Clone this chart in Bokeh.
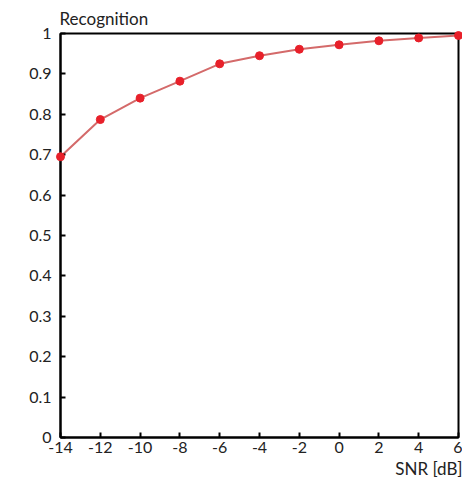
from bokeh.plotting import figure
from bokeh.models import Range1d, FixedTicker, Title
from bokeh.embed import file_html
from bokeh.resources import INLINE

snr_db = [-14, -12, -10, -8, -6, -4, -2, 0, 2, 4, 6]
recognition = [0.695, 0.787, 0.840, 0.882, 0.925, 0.945, 0.961, 0.972, 0.982, 0.989, 0.995]

x_ticks = [-14, -12, -10, -8, -6, -4, -2, 0, 2, 4, 6]
x_tick_labels = ["-14", "-12", "-10", "-8", "-6", "-4", "-2", "0", "2", "4", "6"]
y_ticks = [0, 0.1, 0.2, 0.3, 0.4, 0.5, 0.6, 0.7, 0.8, 0.9, 1]
y_tick_labels = ["0", "0.1", "0.2", "0.3", "0.4", "0.5", "0.6", "0.7", "0.8", "0.9", "1"]

FONT = "Lato"
TXT = "#222222"

p = figure(width=462, height=478, output_backend="svg", toolbar_location=None,
           x_range=Range1d(-14, 6), y_range=Range1d(0, 1),
           min_border_left=60, min_border_right=4, min_border_top=33, min_border_bottom=41)
p.background_fill_color = "white"
p.border_fill_color = "white"
p.outline_line_color = "black"
p.outline_line_width = 2
p.grid.visible = False

for ax in (p.xaxis[0], p.yaxis[0]):
    ax.axis_line_color = "black"
    ax.axis_line_width = 2
    ax.major_tick_in = 5
    ax.major_tick_out = 0
    ax.major_tick_line_width = 2
    ax.minor_tick_line_color = None
    ax.major_label_text_font = FONT
    ax.major_label_text_font_size = "16px"
    ax.major_label_text_color = TXT

p.xaxis[0].ticker = FixedTicker(ticks=x_ticks)
p.xaxis[0].major_label_overrides = {t: s for t, s in zip(x_ticks, x_tick_labels)}
p.yaxis[0].ticker = FixedTicker(ticks=y_ticks)
p.yaxis[0].major_label_overrides = {t: s for t, s in zip(y_ticks, y_tick_labels)}
p.xaxis[0].major_label_standoff = 4
p.yaxis[0].major_label_standoff = 9

p.line(snr_db, recognition, line_color="#d46a6a", line_width=2)
r = p.scatter(snr_db, recognition, size=8, fill_color="#e8202a", line_color="#e8202a")
r.level = "overlay"

p.add_layout(Title(text="Recognition", align="left", text_font=FONT, text_font_size="17px",
                   text_color=TXT, text_font_style="normal", standoff=9, offset=-1), "above")
p.add_layout(Title(text="SNR [dB]", align="right", text_font=FONT, text_font_size="17px",
                   text_color=TXT, text_font_style="normal", standoff=0, offset=-4), "below")

open("out.html", "w").write(file_html(p, INLINE))
